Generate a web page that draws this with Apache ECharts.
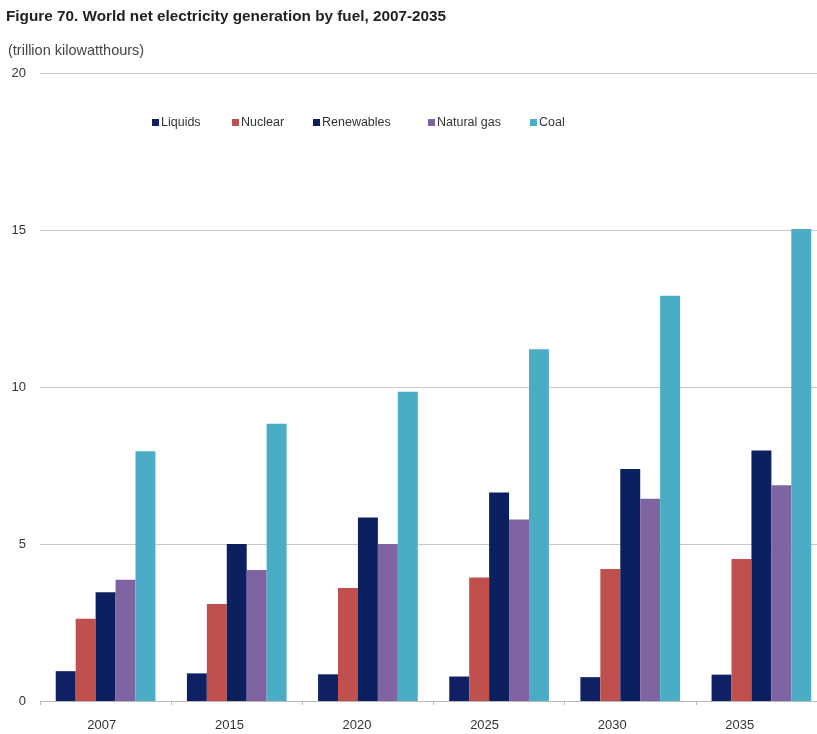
<!DOCTYPE html>
<html><head><meta charset="utf-8">
<script src="https://cdn.jsdelivr.net/npm/echarts@6/dist/echarts.min.js"></script>
<style>html,body{margin:0;padding:0;background:#fff}#c{width:817px;height:734px}</style>
</head><body><div id="c"></div>
<script>
const categories = ['2007','2015','2020','2025','2030','2035'];
const liquids    = [0.95, 0.88, 0.85, 0.78, 0.76, 0.84];
const nuclear    = [2.62, 3.09, 3.60, 3.93, 4.20, 4.52];
const renewables = [3.46, 5.00, 5.84, 6.64, 7.39, 7.98];
const naturalGas = [3.86, 4.17, 5.00, 5.78, 6.44, 6.87];
const coal       = [7.95, 8.83, 9.85, 11.20, 12.91, 15.03];
const yTicks = [0, 5, 10, 15, 20];

const FONT = '"Liberation Sans", Arial, sans-serif';
const names = ['Liquids','Nuclear','Renewables','Natural gas','Coal'];
const colors = ['#0f2162','#c0504d','#0c1f5f','#8064a2','#4bacc6'];
const values = [liquids, nuclear, renewables, naturalGas, coal];
const legendLeft = [147, 227, 308, 423, 525];

const chart = echarts.init(document.getElementById('c'), null, {renderer:'canvas'});
chart.setOption({
  animation: false,
  backgroundColor: '#fff',
  color: colors,
  title: [
    {text: 'Figure 70. World net electricity generation by fuel, 2007-2035', left: 1, top: 4,
     textStyle: {fontFamily: FONT, fontWeight: 'bold', fontSize: 15.3, color: '#222'}},
    {text: '(trillion kilowatthours)', left: 3, top: 38,
     textStyle: {fontFamily: FONT, fontWeight: 'normal', fontSize: 14.5, color: '#444'}}
  ],
  legend: names.map((n, i) => ({
    data: [n], left: legendLeft[i], top: 111, icon: 'rect', itemWidth: 7, itemHeight: 7, itemGap: 4,
    textStyle: {fontFamily: FONT, fontSize: 12.5, color: '#333', padding: [0,0,0,-3]}
  })),
  grid: [
    {left: 40, width: 787, top: 73, bottom: 33, containLabel: false, outerBoundsMode: 'none'},
    {left: 38, width: 765.6, top: 73, bottom: 33, containLabel: false, outerBoundsMode: 'none'}
  ],
  xAxis: [{
    type: 'category', data: categories, gridIndex: 0,
    axisLine: {lineStyle: {color: '#b8b8b8', width: 1}},
    axisTick: {show: true, length: 4, lineStyle: {color: '#b8b8b8'}},
    axisLabel: {show: false}
  }, {
    type: 'category', data: categories, gridIndex: 1,
    axisLine: {show: false}, axisTick: {show: false},
    axisLabel: {fontFamily: FONT, fontSize: 13, color: '#333', margin: 18}
  }],
  yAxis: [{
    type: 'value', min: 0, max: 20, interval: 5, gridIndex: 0,
    axisLine: {show: false}, axisTick: {show: false},
    axisLabel: {fontFamily: FONT, fontSize: 13, color: '#333', margin: 14,
      formatter: v => yTicks.includes(v) ? String(v) : ''},
    splitLine: {lineStyle: {color: '#c8c8c8', width: 1}}
  }, {
    type: 'value', min: 0, max: 20, interval: 5, gridIndex: 1, show: false
  }],
  series: names.map((n, i) => ({
    name: n, type: 'bar', data: values[i], barGap: '0%', barCategoryGap: '24%',
    xAxisIndex: 0, yAxisIndex: 0,
    itemStyle: {color: colors[i]}
  }))
});
</script></body></html>
